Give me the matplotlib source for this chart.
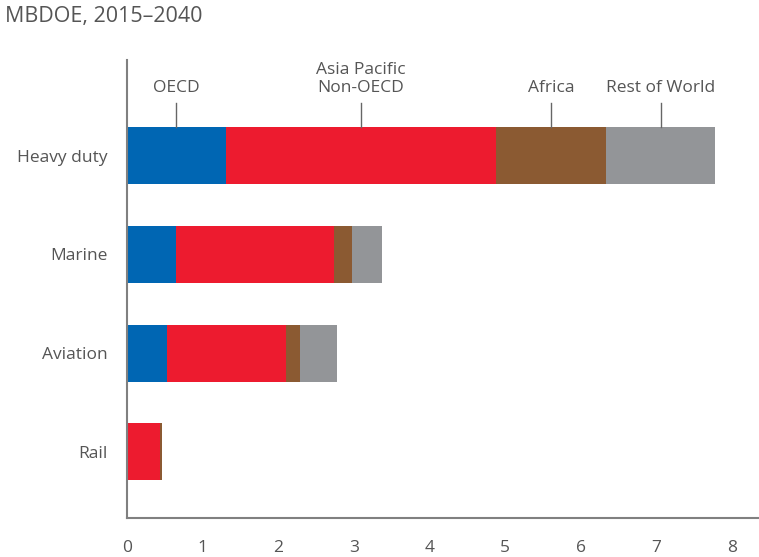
import matplotlib.pyplot as plt
import numpy as np

plt.rcParams['font.family'] = ['Open Sans', 'DejaVu Sans']

categories = ['Heavy duty', 'Marine', 'Aviation', 'Rail']
regions = ['OECD', 'Asia Pacific\nNon-OECD', 'Africa', 'Rest of World']
oecd = [1.31, 0.65, 0.53, 0.0]
asia = [3.57, 2.09, 1.57, 0.44]
africa = [1.46, 0.24, 0.19, 0.02]
rest = [1.44, 0.39, 0.49, 0.0]
colors = ['#0066b3', '#ed1b2f', '#8b5a32', '#939598']

txt = '#555555'
fig = plt.figure(figsize=(7.59, 5.57), dpi=100)
ax = fig.add_axes([0.1673, 0.070, 0.8327, 0.8223])

y = np.arange(len(categories))[::-1]
left = np.zeros(len(categories))
for vals, c in zip([oecd, asia, africa, rest], colors):
    ax.barh(y, vals, left=left, height=0.58, color=c)
    left += np.array(vals)

# region labels with leader lines over the top bar
start = 0
for name, vals in zip(regions, [oecd, asia, africa, rest]):
    mid = start + vals[0] / 2
    start += vals[0]
    ax.plot([mid, mid], [y[0] + 0.29, y[0] + 0.53], color='#666666', lw=1)
    ax.text(mid, y[0] + 0.61, name, ha='center', va='bottom', fontsize=12.5,
            color=txt, linespacing=1.15)

ax.set_xlim(0, 8.36)
ax.set_ylim(-0.67, 3.97)
ax.set_xticks(range(9))
ax.set_yticks(y)
ax.set_yticklabels(categories)
ax.tick_params(length=0, labelsize=12.5, labelcolor=txt)
ax.tick_params(axis='x', pad=16)
ax.tick_params(axis='y', pad=14)
for s in ['top', 'right']:
    ax.spines[s].set_visible(False)
for s in ['left', 'bottom']:
    ax.spines[s].set_color('#808080')
    ax.spines[s].set_linewidth(1.5)

fig.text(0.007, 0.97, 'MBDOE, 2015\u20132040', ha='left', va='center',
         fontsize=15.5, color=txt)

fig.savefig('out.png', dpi=100)
